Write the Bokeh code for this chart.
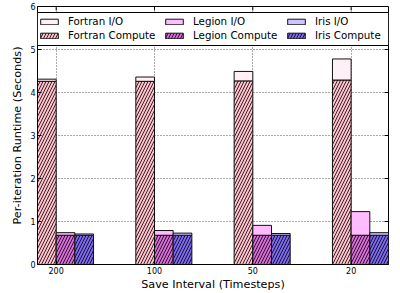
import math
from bokeh.plotting import figure
from bokeh.models import ColumnDataSource, FixedTicker, Legend, LegendItem, BoxAnnotation
from bokeh.embed import file_html
from bokeh.resources import INLINE

# ---- data ----
intervals = ["200", "100", "50", "20"]
fortran_compute = [4.26, 4.26, 4.27, 4.29]
fortran_io = [0.05, 0.10, 0.22, 0.49]
legion_compute = [0.68, 0.68, 0.68, 0.68]
legion_io = [0.06, 0.11, 0.23, 0.55]
iris_compute = [0.68, 0.68, 0.68, 0.68]
iris_io = [0.03, 0.05, 0.04, 0.06]
y_ticks = [0, 1, 2, 3, 4, 5, 6]
libraries = ["Fortran", "Legion", "Iris"]

# ---- styling ----
FONT = "DejaVu Sans"
W = 0.19
compute_colors = ["#ffc0cb", "#d86ad8", "#7b68ee"]
io_colors = ["#fff0f8", "#ffbbff", "#ccc4ff"]
FRAME_H = 258  # px of plot frame height

groups = list(range(len(intervals)))
tick_pos = [g + W for g in groups]
X_END = 3 + 3 * W
Y_END = y_ticks[-1]
PX = (Y_END - y_ticks[0]) / FRAME_H  # data units per pixel (vertical)

p = figure(width=400, height=293, x_range=(0, X_END), y_range=(0, Y_END),
           output_backend="svg", toolbar_location=None,
           min_border_left=37, min_border_right=12, min_border_top=6,
           min_border_bottom=29)
p.background_fill_color = "white"
p.border_fill_color = "white"
p.outline_line_color = "black"
p.outline_line_width = 1

computes = [fortran_compute, legion_compute, iris_compute]
ios = [fortran_io, legion_io, iris_io]
renderers_compute = []
renderers_io = []
for k, lib in enumerate(libraries):
    xs = [g + (k + 0.5) * W for g in groups]
    tops = [c + i for c, i in zip(computes[k], ios[k])]
    src = ColumnDataSource(dict(x=xs, c=computes[k], t=tops))
    rc = p.vbar(x="x", width=W, bottom=0, top="c", source=src,
                fill_color=compute_colors[k], line_color="#111111", line_width=1,
                hatch_pattern="/", hatch_color="black", hatch_scale=6,
                hatch_weight=0.8)
    ri = p.vbar(x="x", width=W, bottom="c", top="t", source=src,
                fill_color=io_colors[k], line_color="#111111", line_width=1)
    renderers_compute.append(rc)
    renderers_io.append(ri)

# axes
xt = FixedTicker(ticks=tick_pos)
yt = FixedTicker(ticks=y_ticks)
p.xaxis.ticker = xt
p.xaxis.major_label_overrides = {t: lab for t, lab in zip(tick_pos, intervals)}
p.yaxis.ticker = yt
p.xaxis.axis_label = "Save Interval (Timesteps)"
p.yaxis.axis_label = "Per-iteration Runtime (Seconds)"
for ax in [p.xaxis[0], p.yaxis[0]]:
    ax.axis_line_color = "black"
    ax.major_tick_in = 4
    ax.major_tick_out = 0
    ax.minor_tick_in = 0
    ax.minor_tick_out = 0
    ax.major_tick_line_color = "black"
    ax.major_label_text_font = FONT
    ax.major_label_text_font_size = "8px"
    ax.major_label_text_color = "black"
    ax.axis_label_text_font = FONT
    ax.axis_label_text_font_size = "11.2px"
    ax.axis_label_text_font_style = "normal"
    ax.axis_label_text_color = "black"
    ax.major_label_standoff = 2
p.xaxis.axis_label_standoff = 1
p.yaxis.axis_label_standoff = 3

# inward ticks on the right and top edges
p.ray(x=[X_END] * len(y_ticks), y=y_ticks, length=4, length_units="screen",
      angle=math.pi, line_color="black", line_width=1)
p.ray(x=tick_pos, y=[Y_END] * len(tick_pos), length=4, length_units="screen",
      angle=-math.pi / 2, line_color="black", line_width=1)

# grid
p.xgrid.ticker = xt
p.ygrid.ticker = yt
for g in [p.xgrid[0], p.ygrid[0]]:
    g.grid_line_color = "#555555"
    g.grid_line_dash = "1 2"
    g.grid_line_width = 1

# legend frame box (spans the plot frame width, 6px..39px below its top)
box = BoxAnnotation(left=0, right=X_END, top=Y_END - 6 * PX, bottom=Y_END - 39 * PX,
                    fill_color="white", fill_alpha=1, line_color="black",
                    line_width=1, line_alpha=1)
p.add_layout(box)


# legend: one borderless column per library
def make_legend(k, x):
    items = [LegendItem(label=f"{libraries[k]} I/O", renderers=[renderers_io[k]]),
             LegendItem(label=f"{libraries[k]} Compute", renderers=[renderers_compute[k]])]
    lg = Legend(items=items, location=(x, 223), orientation="vertical")
    lg.label_text_font = FONT
    lg.label_text_font_size = "10.3px"
    lg.label_text_color = "black"
    lg.glyph_width = 22
    lg.glyph_height = 7
    lg.label_height = 12
    lg.label_standoff = 8
    lg.padding = 3
    lg.spacing = 2
    lg.margin = 0
    lg.border_line_color = None
    lg.background_fill_color = None
    return lg


for k, x in enumerate([1, 126, 248]):
    p.add_layout(make_legend(k, x), "center")

open("out.html", "w").write(file_html(p, INLINE))
